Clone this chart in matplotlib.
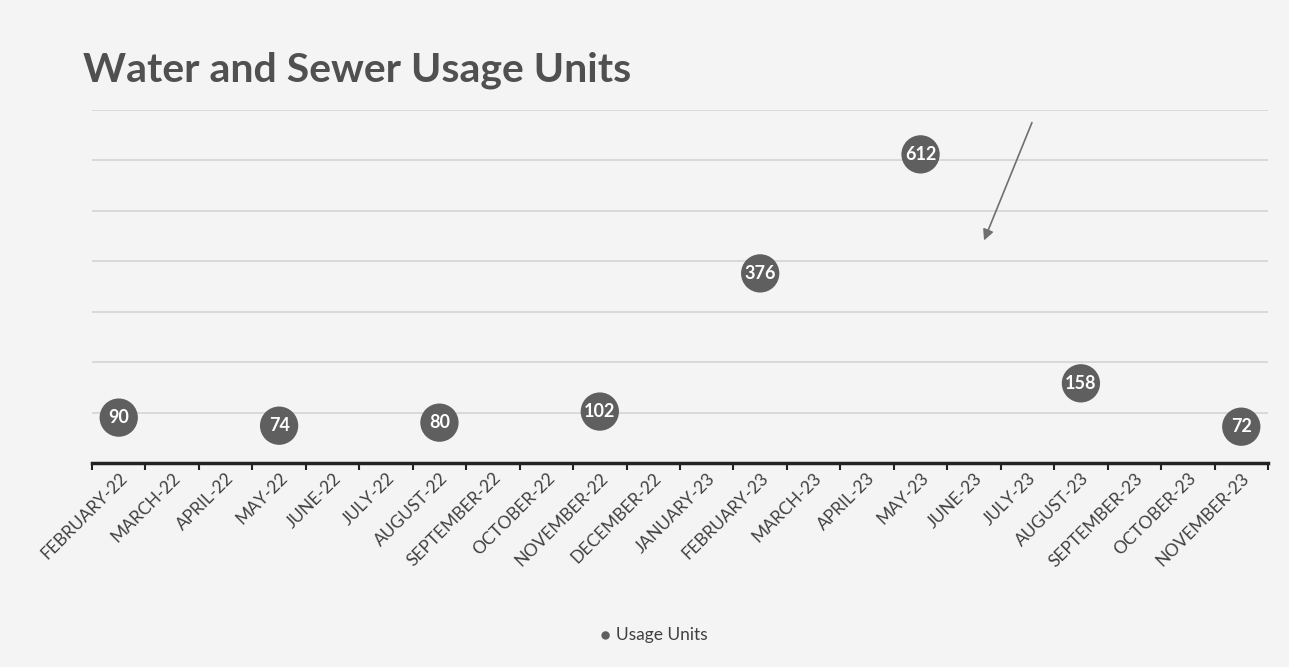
import matplotlib
matplotlib.use("Agg")
import matplotlib.pyplot as plt
import numpy as np

plt.rcParams['font.family'] = ['Lato', 'DejaVu Sans']

months = ["FEBRUARY-22", "MARCH-22", "APRIL-22", "MAY-22", "JUNE-22", "JULY-22",
          "AUGUST-22", "SEPTEMBER-22", "OCTOBER-22", "NOVEMBER-22", "DECEMBER-22",
          "JANUARY-23", "FEBRUARY-23", "MARCH-23", "APRIL-23", "MAY-23", "JUNE-23",
          "JULY-23", "AUGUST-23", "SEPTEMBER-23", "OCTOBER-23", "NOVEMBER-23"]
usage = [90, None, None, 74, None, None, 80, None, None, 102, None,
         None, 376, None, None, 612, None, None, 158, None, None, 72]
series_name = "Usage Units"
title = "Water and Sewer Usage Units"

fig = plt.figure(figsize=(12.89, 6.67), dpi=100)
fig.patch.set_facecolor('#f4f4f4')
ax = fig.add_axes([92/1289, 1-463/667, 1176/1289, 353/667])
ax.set_facecolor('none')

x = np.arange(len(months))
xs = [i for i, v in zip(x, usage) if v is not None]
ys = [v for v in usage if v is not None]

ax.scatter(xs, ys, s=760, color='#5f5f5f', zorder=3, label=series_name, edgecolors='none')
for xi, yi in zip(xs, ys):
    ax.text(xi, yi, str(yi), color='white', fontsize=13, fontweight='bold',
            ha='center', va='center', zorder=4)

ax.set_xlim(-0.5, len(months) - 0.5)
ax.set_ylim(0, 700)
ax.set_yticks(np.arange(100, 701, 100))
ax.yaxis.grid(True, color='#d4d4d4', linewidth=1.2)
ax.set_axisbelow(True)
ax.tick_params(axis='y', length=0, labelleft=False)

ax.set_xticks(x)
ax.set_xticklabels(months, rotation=45, ha='right', rotation_mode='anchor',
                   fontsize=12.5, color='#404040')
ax.tick_params(axis='x', which='major', length=0, pad=5)
ax.set_xticks(np.arange(-0.5, len(months), 1), minor=True)
ax.tick_params(axis='x', which='minor', length=5, width=1.5, color='#222222', direction='out')

for s in ['top', 'right', 'left']:
    ax.spines[s].set_visible(False)
ax.spines['bottom'].set_color('#222222')
ax.spines['bottom'].set_linewidth(2.5)

fig.text(83/1289, 1-70/667, title, fontsize=29.5, fontweight='bold', color='#505050',
         ha='left', va='center')

ax.annotate('', xy=(983/1289, 1-243/667), xytext=(1033/1289, 1-120/667),
            xycoords='figure fraction', textcoords='figure fraction',
            arrowprops=dict(arrowstyle='-|>', color='#6f6f6f', lw=1.2, mutation_scale=16))

fig.legend(handles=[ax.collections[0]], labels=[series_name], loc='center',
           bbox_to_anchor=(654/1289, 1-635/667), frameon=False, fontsize=12.5,
           markerscale=0.22, handlelength=0.6, handletextpad=0.3, labelcolor='#404040')

fig.savefig('out.png', dpi=100, facecolor=fig.get_facecolor())
